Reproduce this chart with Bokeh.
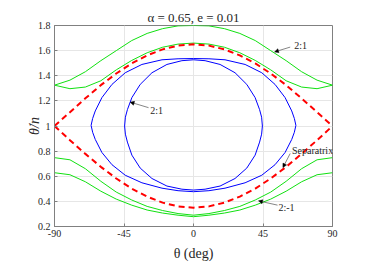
from bokeh.plotting import figure
from bokeh.models import Range1d, FixedTicker, Label, Arrow, NormalHead
from bokeh.embed import file_html
from bokeh.resources import INLINE

# ---------------- data ----------------
THETA = [-90, -80, -70, -60, -50, -40, -30, -20, -10, 0,
         10, 20, 30, 40, 50, 60, 70, 80, 90]

SEP_UPPER = [1.00, 1.11, 1.22, 1.325, 1.418, 1.498, 1.562, 1.61, 1.64, 1.65,
             1.64, 1.61, 1.562, 1.498, 1.418, 1.325, 1.22, 1.11, 1.00]
SEP_LOWER = [1.00, 0.887, 0.778, 0.675, 0.582, 0.502, 0.438, 0.39, 0.36, 0.35,
             0.36, 0.39, 0.438, 0.502, 0.582, 0.675, 0.778, 0.887, 1.00]

GREEN_HI_TOP = [1.325, 1.365, 1.432, 1.52, 1.60, 1.68, 1.737, 1.775, 1.797, 1.80,
                1.797, 1.775, 1.737, 1.68, 1.60, 1.52, 1.432, 1.365, 1.325]
GREEN_HI_BOT = [1.325, 1.297, 1.31, 1.36, 1.447, 1.522, 1.583, 1.627, 1.652, 1.66,
                1.652, 1.627, 1.583, 1.522, 1.447, 1.36, 1.31, 1.297, 1.325]
GREEN_LO_TOP = [0.748, 0.731, 0.66, 0.56, 0.474, 0.411, 0.36, 0.327, 0.303, 0.29,
                0.303, 0.327, 0.36, 0.411, 0.474, 0.56, 0.66, 0.731, 0.748]
GREEN_LO_BOT = [0.628, 0.612, 0.556, 0.481, 0.418, 0.37, 0.331, 0.307, 0.29, 0.278,
                0.29, 0.307, 0.331, 0.37, 0.418, 0.481, 0.556, 0.612, 0.628]

OUTER_T = [-66.3, -65.3, -63.6, -59.3, -52.8, -44.2, -33.4, -20.4, -10, 0,
           10, 20.4, 33.4, 44.2, 52.8, 59.3, 63.6, 65.3, 66.3,
           65.3, 63.6, 59.3, 52.8, 44.2, 33.4, 20.4, 10, 0,
           -10, -20.4, -33.4, -44.2, -52.8, -59.3, -63.6, -65.3, -66.3]
OUTER_V = [1.005, 1.06, 1.12, 1.226, 1.331, 1.424, 1.49, 1.527, 1.535, 1.537,
           1.535, 1.527, 1.49, 1.424, 1.331, 1.226, 1.12, 1.06, 1.005,
           0.95, 0.893, 0.789, 0.692, 0.608, 0.548, 0.505, 0.485, 0.477,
           0.485, 0.505, 0.548, 0.608, 0.692, 0.789, 0.893, 0.95, 1.005]

INNER_T = [-44.6, -44.1, -42.8, -39.9, -34.5, -26.9, -17.2, -7.5, 0,
           7.5, 17.2, 26.9, 34.5, 39.9, 42.8, 44.1, 44.6,
           44.1, 42.8, 39.9, 34.5, 26.9, 17.2, 7.5, 0,
           -7.5, -17.2, -26.9, -34.5, -39.9, -42.8, -44.1, -44.6]
INNER_V = [1.0, 1.07, 1.13, 1.226, 1.331, 1.424, 1.49, 1.52, 1.527,
           1.52, 1.49, 1.424, 1.331, 1.226, 1.13, 1.07, 1.0,
           0.935, 0.872, 0.768, 0.665, 0.582, 0.522, 0.497, 0.49,
           0.497, 0.522, 0.582, 0.665, 0.768, 0.872, 0.935, 1.0]

X_TICKS = [-90, -45, 0, 45, 90]
X_TICK_LABELS = ["-90", "-45", "0", "45", "90"]
Y_TICKS = [0.2, 0.4, 0.6, 0.8, 1.0, 1.2, 1.4, 1.6, 1.8]
Y_TICK_LABELS = ["0.2", "0.4", "0.6", "0.8", "1", "1.2", "1.4", "1.6", "1.8"]

TITLE = "α = 0.65, e = 0.01"
X_LABEL = "θ (deg)"
Y_LABEL = "θ̇/n"

# annotations: (text, text_x, text_y, arrow_from_x, arrow_from_y, arrow_to_x, arrow_to_y)
ANNOTATIONS = [
    ("2:1", 65.2, 1.637, 62.6, 1.628, 52.5, 1.59),
    ("2:1", -28.0, 1.125, -29.1, 1.146, -41.0, 1.19),
    ("Separatrix", 63.8, 0.807, 62.6, 0.781, 57.9, 0.669),
    ("2:-1", 55.0, 0.351, 54.4, 0.37, 42.1, 0.404),
]

FONT = "Liberation Serif"
AX_GRAY = "#808080"
TXT_GRAY = "#262626"

p = figure(width=374, height=264, output_backend="svg", toolbar_location=None,
           x_range=Range1d(-90, 90), y_range=Range1d(0.2, 1.8),
           min_border_left=54, min_border_right=42, min_border_top=25,
           min_border_bottom=38)
p.title.text = TITLE
p.title.align = "center"
p.title.text_font = FONT
p.title.text_font_size = "13px"
p.title.text_font_style = "normal"
p.title.text_color = TXT_GRAY
p.title.standoff = 1
p.background_fill_color = "white"
p.border_fill_color = "white"
p.outline_line_color = AX_GRAY
p.outline_line_width = 1

for ax in (p.xaxis[0], p.yaxis[0]):
    ax.axis_line_color = AX_GRAY
    ax.major_tick_line_color = AX_GRAY
    ax.major_tick_in = 3
    ax.major_tick_out = 0
    ax.minor_tick_line_color = None
    ax.major_label_text_font = FONT
    ax.major_label_text_font_size = "10px"
    ax.major_label_text_color = TXT_GRAY
    ax.axis_label_text_font = FONT
    ax.axis_label_text_font_size = "14px"
    ax.axis_label_text_color = TXT_GRAY

p.xaxis[0].major_label_standoff = 3
p.yaxis[0].major_label_standoff = 4
p.xaxis[0].axis_label = X_LABEL
p.xaxis[0].axis_label_standoff = 6
p.xaxis[0].axis_label_text_font_style = "normal"
p.yaxis[0].axis_label = Y_LABEL
p.yaxis[0].axis_label_standoff = -7
p.yaxis[0].axis_label_text_font_style = "italic"

p.xaxis[0].ticker = FixedTicker(ticks=X_TICKS)
p.yaxis[0].ticker = FixedTicker(ticks=Y_TICKS)
p.xaxis[0].major_label_overrides = {t: s for t, s in zip(X_TICKS, X_TICK_LABELS)}
p.yaxis[0].major_label_overrides = {t: s for t, s in zip(Y_TICKS, Y_TICK_LABELS)}

p.xgrid.grid_line_color = "#e6e6e6"
p.ygrid.grid_line_color = "#e6e6e6"

GREEN = "#11e011"
p.line(THETA, GREEN_HI_TOP, line_color=GREEN, line_width=1)
p.line(THETA, GREEN_HI_BOT, line_color=GREEN, line_width=1)
p.line(THETA, GREEN_LO_TOP, line_color=GREEN, line_width=1)
p.line(THETA, GREEN_LO_BOT, line_color=GREEN, line_width=1)
p.line(OUTER_T, OUTER_V, line_color="#0000ff", line_width=1)
p.line(INNER_T, INNER_V, line_color="#0000ff", line_width=1)
p.line(THETA, SEP_UPPER, line_color="#ff0000", line_width=2, line_dash="6 4")
p.line(THETA, SEP_LOWER, line_color="#ff0000", line_width=2, line_dash="6 4")

for txt, tx, ty, ax0, ay0, ax1, ay1 in ANNOTATIONS:
    p.add_layout(Arrow(end=NormalHead(size=4, fill_color="black", line_color="black", line_width=0.5),
                       x_start=ax0, y_start=ay0, x_end=ax1, y_end=ay1,
                       line_color="#333333", line_width=0.6))
    p.add_layout(Label(x=tx, y=ty, text=txt, text_font=FONT, text_font_size="10px",
                       text_color=TXT_GRAY, text_align="left", text_baseline="middle"))

open("out.html", "w").write(file_html(p, INLINE))
